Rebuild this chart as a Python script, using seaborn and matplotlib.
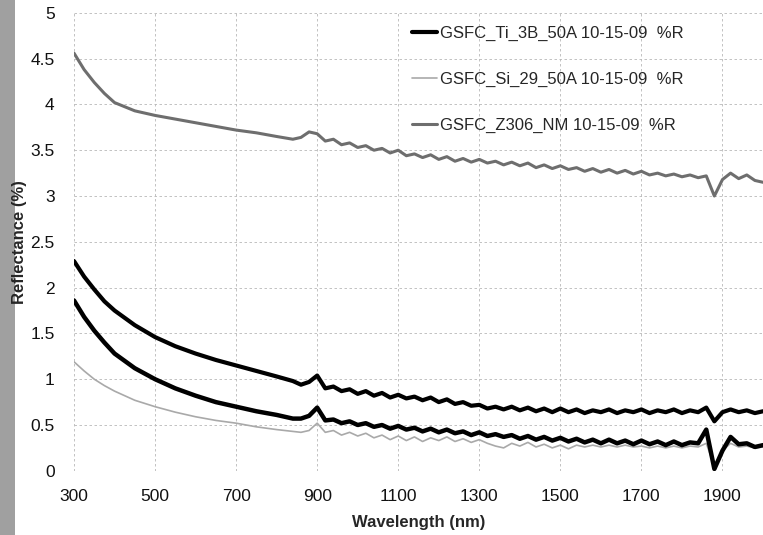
import numpy as np
import pandas as pd
import seaborn as sns
import matplotlib.pyplot as plt
from matplotlib.patches import Rectangle

# wavelength grid (nm): coarse on the smooth part, 20 nm steps on the noisy part
wl_smooth = [300, 325, 350, 375, 400, 450, 500, 550, 600, 650, 700, 750, 800, 840]
wl_noisy = list(range(860, 2001, 20))
wavelength = wl_smooth + wl_noisy

z306 = [4.56, 4.38, 4.24, 4.12, 4.02, 3.93, 3.88, 3.84, 3.80, 3.76, 3.72, 3.69, 3.65, 3.62,
        3.64, 3.70, 3.68, 3.60, 3.62, 3.56, 3.58, 3.53, 3.55, 3.50, 3.52, 3.47, 3.50, 3.44,
        3.46, 3.42, 3.45, 3.40, 3.43, 3.38, 3.41, 3.37, 3.40, 3.36, 3.38, 3.34, 3.37, 3.33,
        3.36, 3.31, 3.34, 3.30, 3.33, 3.29, 3.31, 3.27, 3.30, 3.26, 3.29, 3.25, 3.28, 3.24,
        3.27, 3.23, 3.25, 3.22, 3.24, 3.21, 3.23, 3.20, 3.22, 3.00, 3.18, 3.25, 3.19, 3.23,
        3.17, 3.15]

ti_3b = [2.29, 2.12, 1.98, 1.85, 1.75, 1.59, 1.46, 1.36, 1.28, 1.21, 1.15, 1.09, 1.03, 0.98,
         0.94, 0.97, 1.04, 0.90, 0.92, 0.87, 0.89, 0.84, 0.87, 0.82, 0.85, 0.80, 0.83, 0.79,
         0.81, 0.77, 0.80, 0.75, 0.78, 0.73, 0.75, 0.71, 0.72, 0.68, 0.70, 0.67, 0.70, 0.66,
         0.69, 0.65, 0.68, 0.64, 0.68, 0.64, 0.67, 0.63, 0.66, 0.64, 0.67, 0.63, 0.66, 0.64,
         0.67, 0.63, 0.66, 0.64, 0.67, 0.63, 0.66, 0.64, 0.69, 0.54, 0.64, 0.67, 0.64, 0.66,
         0.63, 0.65]

ti_lower = [1.86, 1.68, 1.53, 1.40, 1.28, 1.12, 1.00, 0.90, 0.82, 0.75, 0.70, 0.65, 0.61, 0.57,
            0.57, 0.60, 0.69, 0.55, 0.56, 0.52, 0.54, 0.50, 0.52, 0.48, 0.50, 0.46, 0.49, 0.45,
            0.47, 0.43, 0.46, 0.42, 0.45, 0.41, 0.43, 0.39, 0.42, 0.38, 0.40, 0.37, 0.39, 0.35,
            0.38, 0.34, 0.37, 0.33, 0.36, 0.32, 0.35, 0.31, 0.34, 0.30, 0.34, 0.30, 0.33, 0.29,
            0.33, 0.29, 0.32, 0.28, 0.32, 0.28, 0.31, 0.30, 0.45, 0.02, 0.22, 0.37, 0.29, 0.30,
            0.26, 0.28]

si_29 = [1.19, 1.09, 1.00, 0.93, 0.87, 0.77, 0.70, 0.64, 0.59, 0.55, 0.52, 0.48, 0.45, 0.43,
         0.42, 0.44, 0.52, 0.42, 0.44, 0.39, 0.42, 0.38, 0.41, 0.36, 0.39, 0.34, 0.38, 0.33,
         0.37, 0.32, 0.36, 0.33, 0.37, 0.32, 0.35, 0.31, 0.34, 0.30, 0.27, 0.25, 0.30, 0.27,
         0.31, 0.26, 0.29, 0.25, 0.28, 0.24, 0.28, 0.26, 0.28, 0.26, 0.28, 0.26, 0.28, 0.26,
         0.27, 0.25, 0.27, 0.25, 0.27, 0.25, 0.27, 0.26, 0.30, 0.05, 0.22, 0.30, 0.26, 0.27,
         0.25, 0.26]

labels = ['GSFC_Ti_3B_50A 10-15-09  %R',
          'GSFC_Si_29_50A 10-15-09  %R',
          'GSFC_Z306_NM 10-15-09  %R']

x_ticks = [300, 500, 700, 900, 1100, 1300, 1500, 1700, 1900]
y_ticks = [0, 0.5, 1, 1.5, 2, 2.5, 3, 3.5, 4, 4.5, 5]
y_ticklabels = ['0', '0.5', '1', '1.5', '2', '2.5', '3', '3.5', '4', '4.5', '5']

df = pd.DataFrame({'wl': wavelength, 'z306': z306, 'ti': ti_3b,
                   'ti_lower': ti_lower, 'si': si_29})

sns.set_style('white')
plt.rcParams['font.family'] = ['Liberation Sans', 'DejaVu Sans']

fig = plt.figure(figsize=(7.63, 5.35), dpi=100)
ax = fig.add_axes([0.097, 0.12, 0.903, 0.856])

# scanned-page border strip on the left
fig.patches.append(Rectangle((0, 0), 15 / 763, 1, transform=fig.transFigure,
                             facecolor='#a0a0a0', edgecolor='none', zorder=-1))

sns.lineplot(data=df, x='wl', y='si', color='#a9a9a9', linewidth=1.2, ax=ax, label=labels[1])
sns.lineplot(data=df, x='wl', y='z306', color='#6e6e6e', linewidth=2.2, ax=ax, label=labels[2])
sns.lineplot(data=df, x='wl', y='ti_lower', color='black', linewidth=3.2, ax=ax)
sns.lineplot(data=df, x='wl', y='ti', color='black', linewidth=3.0, ax=ax, label=labels[0])

ax.set_xlim(300, 2000)
ax.set_ylim(0, 5)
ax.set_xticks(x_ticks)
ax.set_yticks(y_ticks)
ax.set_yticklabels(y_ticklabels)
ax.tick_params(axis='both', length=0, labelsize=12.5, colors='#111111')
ax.tick_params(axis='y', pad=14)
ax.tick_params(axis='x', pad=13)
ax.grid(True, color='#b8b8b8', linestyle=(0, (3, 3)), linewidth=0.6)
for s in ax.spines.values():
    s.set_visible(False)

ax.set_xlabel('Wavelength (nm)', fontsize=12, fontweight='bold', labelpad=8)
ax.set_ylabel('Reflectance (%)', fontsize=12, fontweight='bold')
ax.yaxis.set_label_coords(-0.068, 0.5)

# legend in the order of the original
handles, labs = ax.get_legend_handles_labels()
order = [labs.index(l) for l in labels]
ax.legend([handles[i] for i in order], [labs[i] for i in order],
          loc='upper left', bbox_to_anchor=(397 / 763, 1 - 11 / 535),
          bbox_transform=fig.transFigure, frameon=False, fontsize=12,
          labelspacing=1.85, handlelength=1.5, handletextpad=0.15)

fig.savefig('out.png', dpi=100)
